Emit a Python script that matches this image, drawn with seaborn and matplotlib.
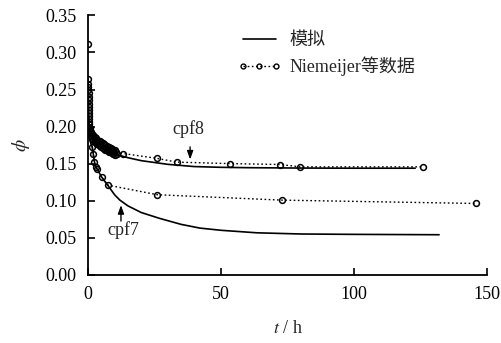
import numpy as np
import pandas as pd
import matplotlib
matplotlib.use("Agg")
import matplotlib.pyplot as plt
import seaborn as sns
from matplotlib.lines import Line2D

# ---- data ----
t_sim8 = [0, 0.2, 0.5, 1, 2, 3, 5, 7, 10, 15, 20, 30, 40, 50, 60, 80, 100, 123]
phi_sim8 = [0.265, 0.22, 0.20, 0.19, 0.182, 0.177, 0.171, 0.167, 0.163, 0.158,
            0.154, 0.149, 0.146, 0.145, 0.1445, 0.144, 0.1438, 0.1438]

t_sim7 = [0, 0.5, 1, 1.6, 2.0, 2.4, 2.9, 3.5, 5.1, 7.4, 10, 12, 15, 20, 27, 35,
          42, 50, 63.5, 80, 100, 132]
phi_sim7 = [0.19, 0.184, 0.178, 0.1725, 0.163, 0.153, 0.146, 0.1425, 0.132, 0.121,
            0.108, 0.1007, 0.093, 0.084, 0.076, 0.068, 0.063, 0.060, 0.0566,
            0.055, 0.0545, 0.054]

# Niemeijer data, cpf8: first isolated point, then dense early measurements, then sparse
t_exp8_first = [0.1]
phi_exp8_first = [0.312]
t_exp8 = [0.1, 0.1, 0.15, 0.15, 0.2, 0.2, 0.25, 0.25, 0.3, 0.3, 0.35, 0.35,
          0.4, 0.4, 0.5, 0.5, 0.6, 0.7, 0.8, 0.9,
          1.0, 1.0, 1.5, 1.5, 2.0, 2.0, 2.5, 2.5, 3.0, 3.0, 3.5, 3.5, 4.0, 4.0,
          4.5, 4.5, 5.0, 5.0, 5.5, 5.5, 6.0, 6.0, 6.5, 6.5, 7.0, 7.0, 7.5, 7.5,
          8.0, 8.0, 8.5, 8.5, 9.0, 9.0, 9.5, 9.5, 10.0, 10.0, 10.5, 11.0,
          13.3, 26.1, 33.4, 53.5, 72.3, 79.8, 126]
phi_exp8 = [0.264, 0.258, 0.254, 0.249, 0.245, 0.240, 0.236, 0.231, 0.227, 0.222,
            0.218, 0.214, 0.210, 0.206, 0.203, 0.199, 0.198, 0.196, 0.194, 0.192,
            0.193, 0.187, 0.1905, 0.1845, 0.188, 0.182, 0.186, 0.180, 0.184,
            0.178, 0.1825, 0.1765, 0.181, 0.175, 0.180, 0.174, 0.179, 0.173,
            0.1775, 0.1715, 0.176, 0.170, 0.175, 0.169, 0.174, 0.168, 0.173,
            0.167, 0.172, 0.166, 0.171, 0.165, 0.170, 0.164, 0.169, 0.163,
            0.168, 0.162, 0.165, 0.163,
            0.1636, 0.157, 0.152, 0.150, 0.1488, 0.1456, 0.1456]

t_exp7 = [1.6, 2.0, 2.4, 2.9, 3.5, 5.1, 7.4, 26.1, 72.9, 145.8]
phi_exp7 = [0.1725, 0.1627, 0.152, 0.1456, 0.1425, 0.132, 0.121, 0.108, 0.1007, 0.0962]

x_ticks = [0, 50, 100, 150]
y_ticks = [0.00, 0.05, 0.10, 0.15, 0.20, 0.25, 0.30, 0.35]
legend_labels = ['模拟', 'Niemeijer等数据']

sns.set_style("ticks")
plt.rcParams['font.family'] = ['Liberation Serif', 'Noto Sans CJK SC', 'DejaVu Sans']
plt.rcParams['mathtext.fontset'] = 'stix'

fig = plt.figure(figsize=(5.01, 3.43), dpi=100)
ax = fig.add_axes([0.1756, 0.199, 0.7964, 0.756])

sim8 = pd.DataFrame({'t': t_sim8, 'phi': phi_sim8})
sim7 = pd.DataFrame({'t': t_sim7, 'phi': phi_sim7})
exp8 = pd.DataFrame({'t': t_exp8, 'phi': phi_exp8})
exp8f = pd.DataFrame({'t': t_exp8_first, 'phi': phi_exp8_first})
exp7 = pd.DataFrame({'t': t_exp7, 'phi': phi_exp7})

dots = (0, (1.2, 1.8))
sns.lineplot(data=sim8, x='t', y='phi', ax=ax, color='black', lw=1.2,
             estimator=None, sort=False)
sns.lineplot(data=sim7, x='t', y='phi', ax=ax, color='black', lw=1.2,
             estimator=None, sort=False)
mk = dict(marker='o', markersize=4.2, markerfacecolor='none',
          markeredgecolor='black', markeredgewidth=1.1)
sns.lineplot(data=exp8, x='t', y='phi', ax=ax, color='black', lw=1.0,
             ls=dots, estimator=None, sort=False, **mk)
sns.lineplot(data=exp8f, x='t', y='phi', ax=ax, color='black', lw=0,
             estimator=None, sort=False, **mk)
sns.lineplot(data=exp7, x='t', y='phi', ax=ax, color='black', lw=1.0,
             ls=dots, estimator=None, sort=False, **mk)

ax.set_xlim(0, 150)
ax.set_ylim(0, 0.35)
ax.set_xticks(x_ticks)
ax.set_xticklabels([str(v) for v in x_ticks])
ax.set_yticks(y_ticks)
ax.set_yticklabels([f"{v:.2f}" for v in y_ticks])
ax.tick_params(direction='in', length=5, width=1.2, labelsize=13, pad=8, colors='black')
for s in ['top', 'right']:
    ax.spines[s].set_visible(False)
for s in ['left', 'bottom']:
    ax.spines[s].set_linewidth(1.3)
    ax.spines[s].set_color('black')

ax.set_xlabel(r'$t$ / h', fontsize=13, labelpad=12)
ax.set_ylabel(r'$\phi$', fontsize=14, labelpad=10)

# annotations
arrow = dict(arrowstyle='-|>,head_length=0.5,head_width=0.18', color='black',
             lw=1.0, shrinkA=0, shrinkB=0)
ax.text(37.7, 0.197, 'cpf8', fontsize=13, ha='center', va='center')
ax.annotate('', xy=(38.4, 0.1555), xytext=(38.4, 0.1725), arrowprops=arrow)
ax.text(13.3, 0.060, 'cpf7', fontsize=13, ha='center', va='center')
ax.annotate('', xy=(12.4, 0.094), xytext=(12.4, 0.0725), arrowprops=arrow)

# legend
mk_leg = dict(mk, markersize=3.5, markeredgewidth=1.0)
handles = [Line2D([], [], color='black', lw=1.2),
           Line2D([], [], color='black', lw=1.0, ls=dots, **mk_leg)]
leg = ax.legend(handles, legend_labels, loc='upper left',
                bbox_to_anchor=(0.375, 0.935), borderaxespad=0, borderpad=0,
                frameon=False, fontsize=13, numpoints=3,
                handlelength=2.4, handletextpad=0.45, labelspacing=0.4)

fig.savefig('out.png', dpi=100)
